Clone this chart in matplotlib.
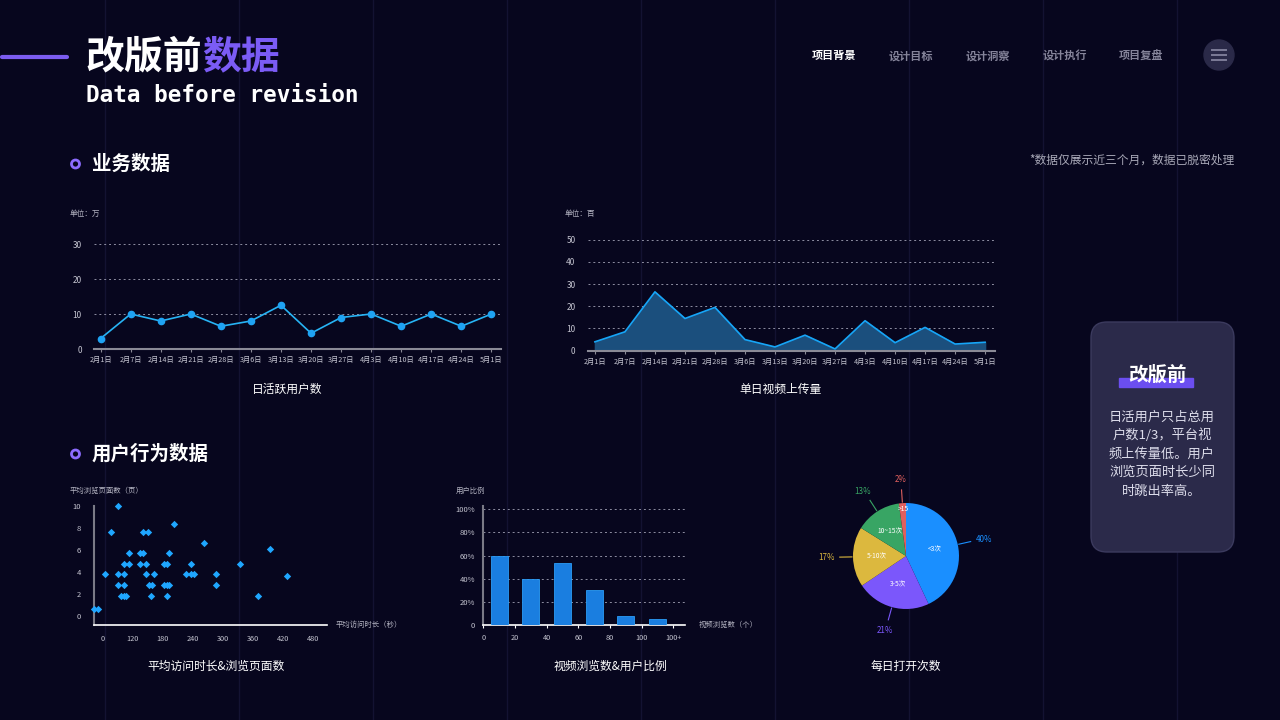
import numpy as np
import matplotlib
matplotlib.use("Agg")
import matplotlib.pyplot as plt
from matplotlib.patches import FancyBboxPatch, Circle, Rectangle

plt.rcParams['font.family'] = ['Noto Sans CJK SC', 'DejaVu Sans']

W, H = 1280, 720
BG = '#07061e'
GRID = '#8e8ea2'
TICK = '#c4c4d0'

# ---- data ----
dates = ['2月1日', '2月7日', '2月14日', '2月21日', '2月28日', '3月6日', '3月13日',
         '3月20日', '3月27日', '4月3日', '4月10日', '4月17日', '4月24日', '5月1日']
dau = [3, 10, 8, 10, 6.5, 8, 12.5, 4.5, 9, 10, 6.5, 10, 6.5, 10]
uploads = [4, 8.5, 26.5, 14.5, 19.5, 5, 1.7, 7, 0.8, 13.5, 3.6, 10.5, 3, 3.8]

visit_sec = [-17, -9, 32, 17, 6, 32, 43, 32, 43, 38, 43, 48, 43, 54, 54, 76, 81,
             81, 92, 76, 87, 87, 104, 94, 99, 98, 143, 133, 122, 128, 123, 128,
             133, 128, 167, 177, 177, 182, 202, 227, 227, 275, 310, 334, 368]
visit_pages = [0.6, 0.6, 10, 7.6, 3.8, 3.8, 3.8, 2.8, 2.8, 1.8, 1.8, 1.8, 4.7, 4.7,
               5.7, 5.7, 5.7, 7.6, 7.6, 4.7, 4.7, 3.8, 3.8, 2.8, 2.8, 1.8, 8.4,
               5.7, 4.7, 4.7, 2.8, 2.8, 2.8, 1.8, 3.8, 4.7, 3.8, 3.8, 6.6, 3.8,
               2.8, 4.7, 1.8, 6.1, 3.6]
sec_ticks = [0, 60, 120, 180, 240, 300, 360, 420]
sec_labels = ['0', '120', '180', '240', '300', '360', '420', '480']
page_ticks = [0, 2, 4, 6, 8, 10]

bin_labels = ['0', '20', '40', '60', '80', '100', '100+']
user_ratio = [60, 40, 54, 30, 8, 5]
ratio_ticks = [0, 20, 40, 60, 80, 100]

open_labels = ['<3次', '3-5次', '5-10次', '10~15次', '>15']
open_share = [40, 21, 17, 13, 2]
open_colors = ['#1a8fff', '#7b57fb', '#dcb83e', '#38a564', '#e0605e']

nav_items = ['项目背景', '设计目标', '设计洞察', '设计执行', '项目复盘']
card_lines = ['日活用户只占总用', '户数1/3，平台视', '频上传量低。用户',
              '浏览页面时长少同', '时跳出率高。']

fig = plt.figure(figsize=(12.8, 7.2), dpi=100, facecolor=BG)


def px_axes(left, top, right, bottom, z=2):
    a = fig.add_axes([left / W, 1 - bottom / H, (right - left) / W, (bottom - top) / H])
    a.set_facecolor('none')
    a.set_zorder(z)
    return a


# overlay for decoration, in pixel coords
bg = px_axes(0, 0, W, H, z=0)
bg.set_xlim(0, W)
bg.set_ylim(H, 0)
bg.axis('off')

for x in 104.5 + 134.1 * np.arange(9):
    bg.plot([x, x], [0, H], color='#131232', lw=1, zorder=0)

# header
bg.plot([2, 67], [57, 57], color='#7b5cf0', lw=3, solid_capstyle='round')
bg.text(86, 57, '改版前', color='white', fontsize=28, fontweight='bold', va='center')
bg.text(202, 57, '数据', color='#7b5cf5', fontsize=28, fontweight='bold', va='center')
bg.text(86, 96, 'Data before revision', color='white', fontsize=16.3, fontweight='bold',
        family='DejaVu Sans Mono', va='center')

nav_x = [812, 889, 966, 1043, 1119]
for i, (nx, item) in enumerate(zip(nav_x, nav_items)):
    bg.text(nx, 56, item, color='white' if i == 0 else '#85849a', fontsize=8,
            fontweight='bold', va='center')
bg.add_patch(Circle((1219, 55), 15, color='#2a2948'))
for yy in (50, 55, 60):
    bg.plot([1212, 1226], [yy, yy], color='#7d7c98', lw=1.4)

# section headers
for sy, name in [(164, '业务数据'), (454, '用户行为数据')]:
    bg.add_patch(Circle((75.5, sy), 4, fill=False, ec='#8c6cff', lw=2))
    bg.text(92, sy, name, color='white', fontsize=14, fontweight='bold', va='center')
bg.text(1234, 160, '*数据仅展示近三个月，数据已脱密处理', color='#a9a9b8', fontsize=8.5,
        ha='right', va='center')

# chart titles
for tx, ty, t in [(287, 389, '日活跃用户数'), (781, 389, '单日视频上传量'),
                  (216, 666, '平均访问时长&浏览页面数'), (610, 666, '视频浏览数&用户比例'),
                  (906, 666, '每日打开次数')]:
    bg.text(tx, ty, t, color='white', fontsize=8.5, ha='center', va='center')

# side card
bg.add_patch(FancyBboxPatch((1091, 322), 143, 230, boxstyle='round,pad=0,rounding_size=16',
                            fc='#2b2a4a', ec='#3b3a5e', lw=1))
bg.add_patch(Rectangle((1119, 378), 74, 9, color='#6b4ef0'))
bg.text(1157, 375, '改版前', color='white', fontsize=14, fontweight='bold',
        ha='center', va='center')
for i, line in enumerate(card_lines):
    bg.text(1162, 417 + 18.5 * i, line, color='#dcdcea', fontsize=9.5,
            ha='center', va='center')


def style_axes(a):
    for s in a.spines.values():
        s.set_visible(False)
    a.tick_params(colors=TICK, labelsize=5)


# ---- line chart ----
ax1 = px_axes(94.3, 237, 500.7, 349)
x = np.arange(len(dates))
ax1.plot(x, dau, color='#27b4f5', lw=1.2, marker='o', ms=4.5, mfc='#1fa3f3',
         mec='#1fa3f3', clip_on=False, zorder=3)
ax1.set_xlim(-0.21, 13.31)
ax1.set_ylim(0, 32)
ax1.set_xticks(x)
ax1.set_xticklabels(dates)
ax1.set_yticks([0, 10, 20, 30])
style_axes(ax1)
ax1.spines['bottom'].set_visible(True)
ax1.spines['bottom'].set_color('#8a8a96')
ax1.spines['bottom'].set_linewidth(1.5)
ax1.tick_params(axis='x', length=2, color='#8a8a96', pad=3, labelsize=5.2)
ax1.tick_params(axis='y', length=0, pad=9, labelsize=6)
for v in [10, 20, 30]:
    ax1.axhline(v, color=GRID, lw=0.7, ls=(0, (2, 3)), zorder=1)
bg.text(70, 214, '单位：万', color='#b4b4c2', fontsize=5.5, va='center')

# ---- area chart ----
ax2 = px_axes(588, 233, 995, 350.7)
ax2.fill_between(x, uploads, 0, color='#1b4f7d', zorder=2)
ax2.plot(x, uploads, color='#16a5f7', lw=1.2, zorder=3)
ax2.set_xlim(-0.23, 13.33)
ax2.set_ylim(0, 53)
ax2.set_xticks(x)
ax2.set_xticklabels(dates)
ax2.set_yticks([0, 10, 20, 30, 40, 50])
style_axes(ax2)
ax2.spines['bottom'].set_visible(True)
ax2.spines['bottom'].set_color('#8a8a96')
ax2.spines['bottom'].set_linewidth(1.5)
ax2.tick_params(axis='x', length=2, color='#8a8a96', pad=3, labelsize=5.2)
ax2.tick_params(axis='y', length=0, pad=9, labelsize=6)
for v in [10, 20, 30, 40, 50]:
    ax2.axhline(v, color=GRID, lw=0.7, ls=(0, (2, 3)), zorder=1)
bg.text(565, 214, '单位：百', color='#b4b4c2', fontsize=5.5, va='center')

# ---- scatter ----
ax3 = px_axes(93.7, 506, 326.7, 625)
ax3.scatter(visit_sec, visit_pages, marker='D', s=14, color='#1fa6ff', lw=0,
            clip_on=False, zorder=3)
ax3.set_xlim(-17.1, 447)
ax3.set_ylim(-0.85, 10)
ax3.set_xticks(sec_ticks)
ax3.set_xticklabels(sec_labels)
ax3.set_yticks(page_ticks)
style_axes(ax3)
ax3.spines['left'].set_visible(True)
ax3.spines['left'].set_color('#7a7a86')
ax3.spines['left'].set_linewidth(1.5)
ax3.spines['bottom'].set_visible(True)
ax3.spines['bottom'].set_color('white')
ax3.spines['bottom'].set_linewidth(1.2)
ax3.tick_params(axis='x', length=0, pad=7, labelsize=5.3)
ax3.tick_params(axis='y', length=0, pad=9, labelsize=5.5)
bg.text(70, 491, '平均浏览页面数（页）', color='#b4b4c2', fontsize=5.3, va='center')
bg.text(336, 625, '平均访问时长（秒）', color='#b4b4c2', fontsize=5.3, va='center')

# ---- bars ----
ax4 = px_axes(483.3, 505.8, 685, 625.3)
bx = np.arange(len(user_ratio)) + 0.5
ax4.bar(bx, user_ratio, width=0.53, color='#1a7ee0', edgecolor='#2b9cf6', lw=0.6, zorder=3)
ax4.set_xlim(0, 6.37)
ax4.set_ylim(0, 103)
ax4.set_xticks(np.arange(len(bin_labels)))
ax4.set_xticklabels(bin_labels)
ax4.set_yticks(ratio_ticks)
ax4.set_yticklabels(['0'] + [f'{v}%' for v in ratio_ticks[1:]])
style_axes(ax4)
ax4.spines['left'].set_visible(True)
ax4.spines['left'].set_color('#7a7a86')
ax4.spines['left'].set_linewidth(1.5)
ax4.spines['bottom'].set_visible(True)
ax4.spines['bottom'].set_color('white')
ax4.spines['bottom'].set_linewidth(1.2)
ax4.tick_params(axis='x', length=2, color='white', pad=4, labelsize=5.3)
ax4.tick_params(axis='y', length=0, pad=6, labelsize=5.5)
for v in ratio_ticks[1:]:
    ax4.axhline(v, color=GRID, lw=0.7, ls=(0, (2, 3)), zorder=1)
bg.text(456, 491, '用户比例', color='#b4b4c2', fontsize=5.3, va='center')
bg.text(699, 625, '视频浏览数（个）', color='#b4b4c2', fontsize=5.3, va='center')

# ---- pie ----
ax5 = px_axes(853, 503, 959, 609, z=3)
wedges, _ = ax5.pie(open_share, colors=open_colors, startangle=90, counterclock=False,
                    radius=1, wedgeprops=dict(lw=0))
ax5.set_xlim(-1, 1)
ax5.set_ylim(-1, 1)
for w, lab, val, col in zip(wedges, open_labels, open_share, open_colors):
    mid = np.deg2rad((w.theta1 + w.theta2) / 2)
    c, s = np.cos(mid), np.sin(mid)
    r_in = 0.88 if val < 5 else 0.55
    ax5.text(r_in * c, r_in * s, lab, color='white', fontsize=4.8, ha='center', va='center')
    ax5.plot([1.02 * c, 1.25 * c], [1.02 * s, 1.25 * s], color=col, lw=0.8, clip_on=False)
    ax5.text(1.5 * c, 1.45 * s, f'{val}%', color=col, fontsize=5.8,
             ha='center', va='center', clip_on=False)

fig.savefig('out.png', dpi=100, facecolor=BG)
